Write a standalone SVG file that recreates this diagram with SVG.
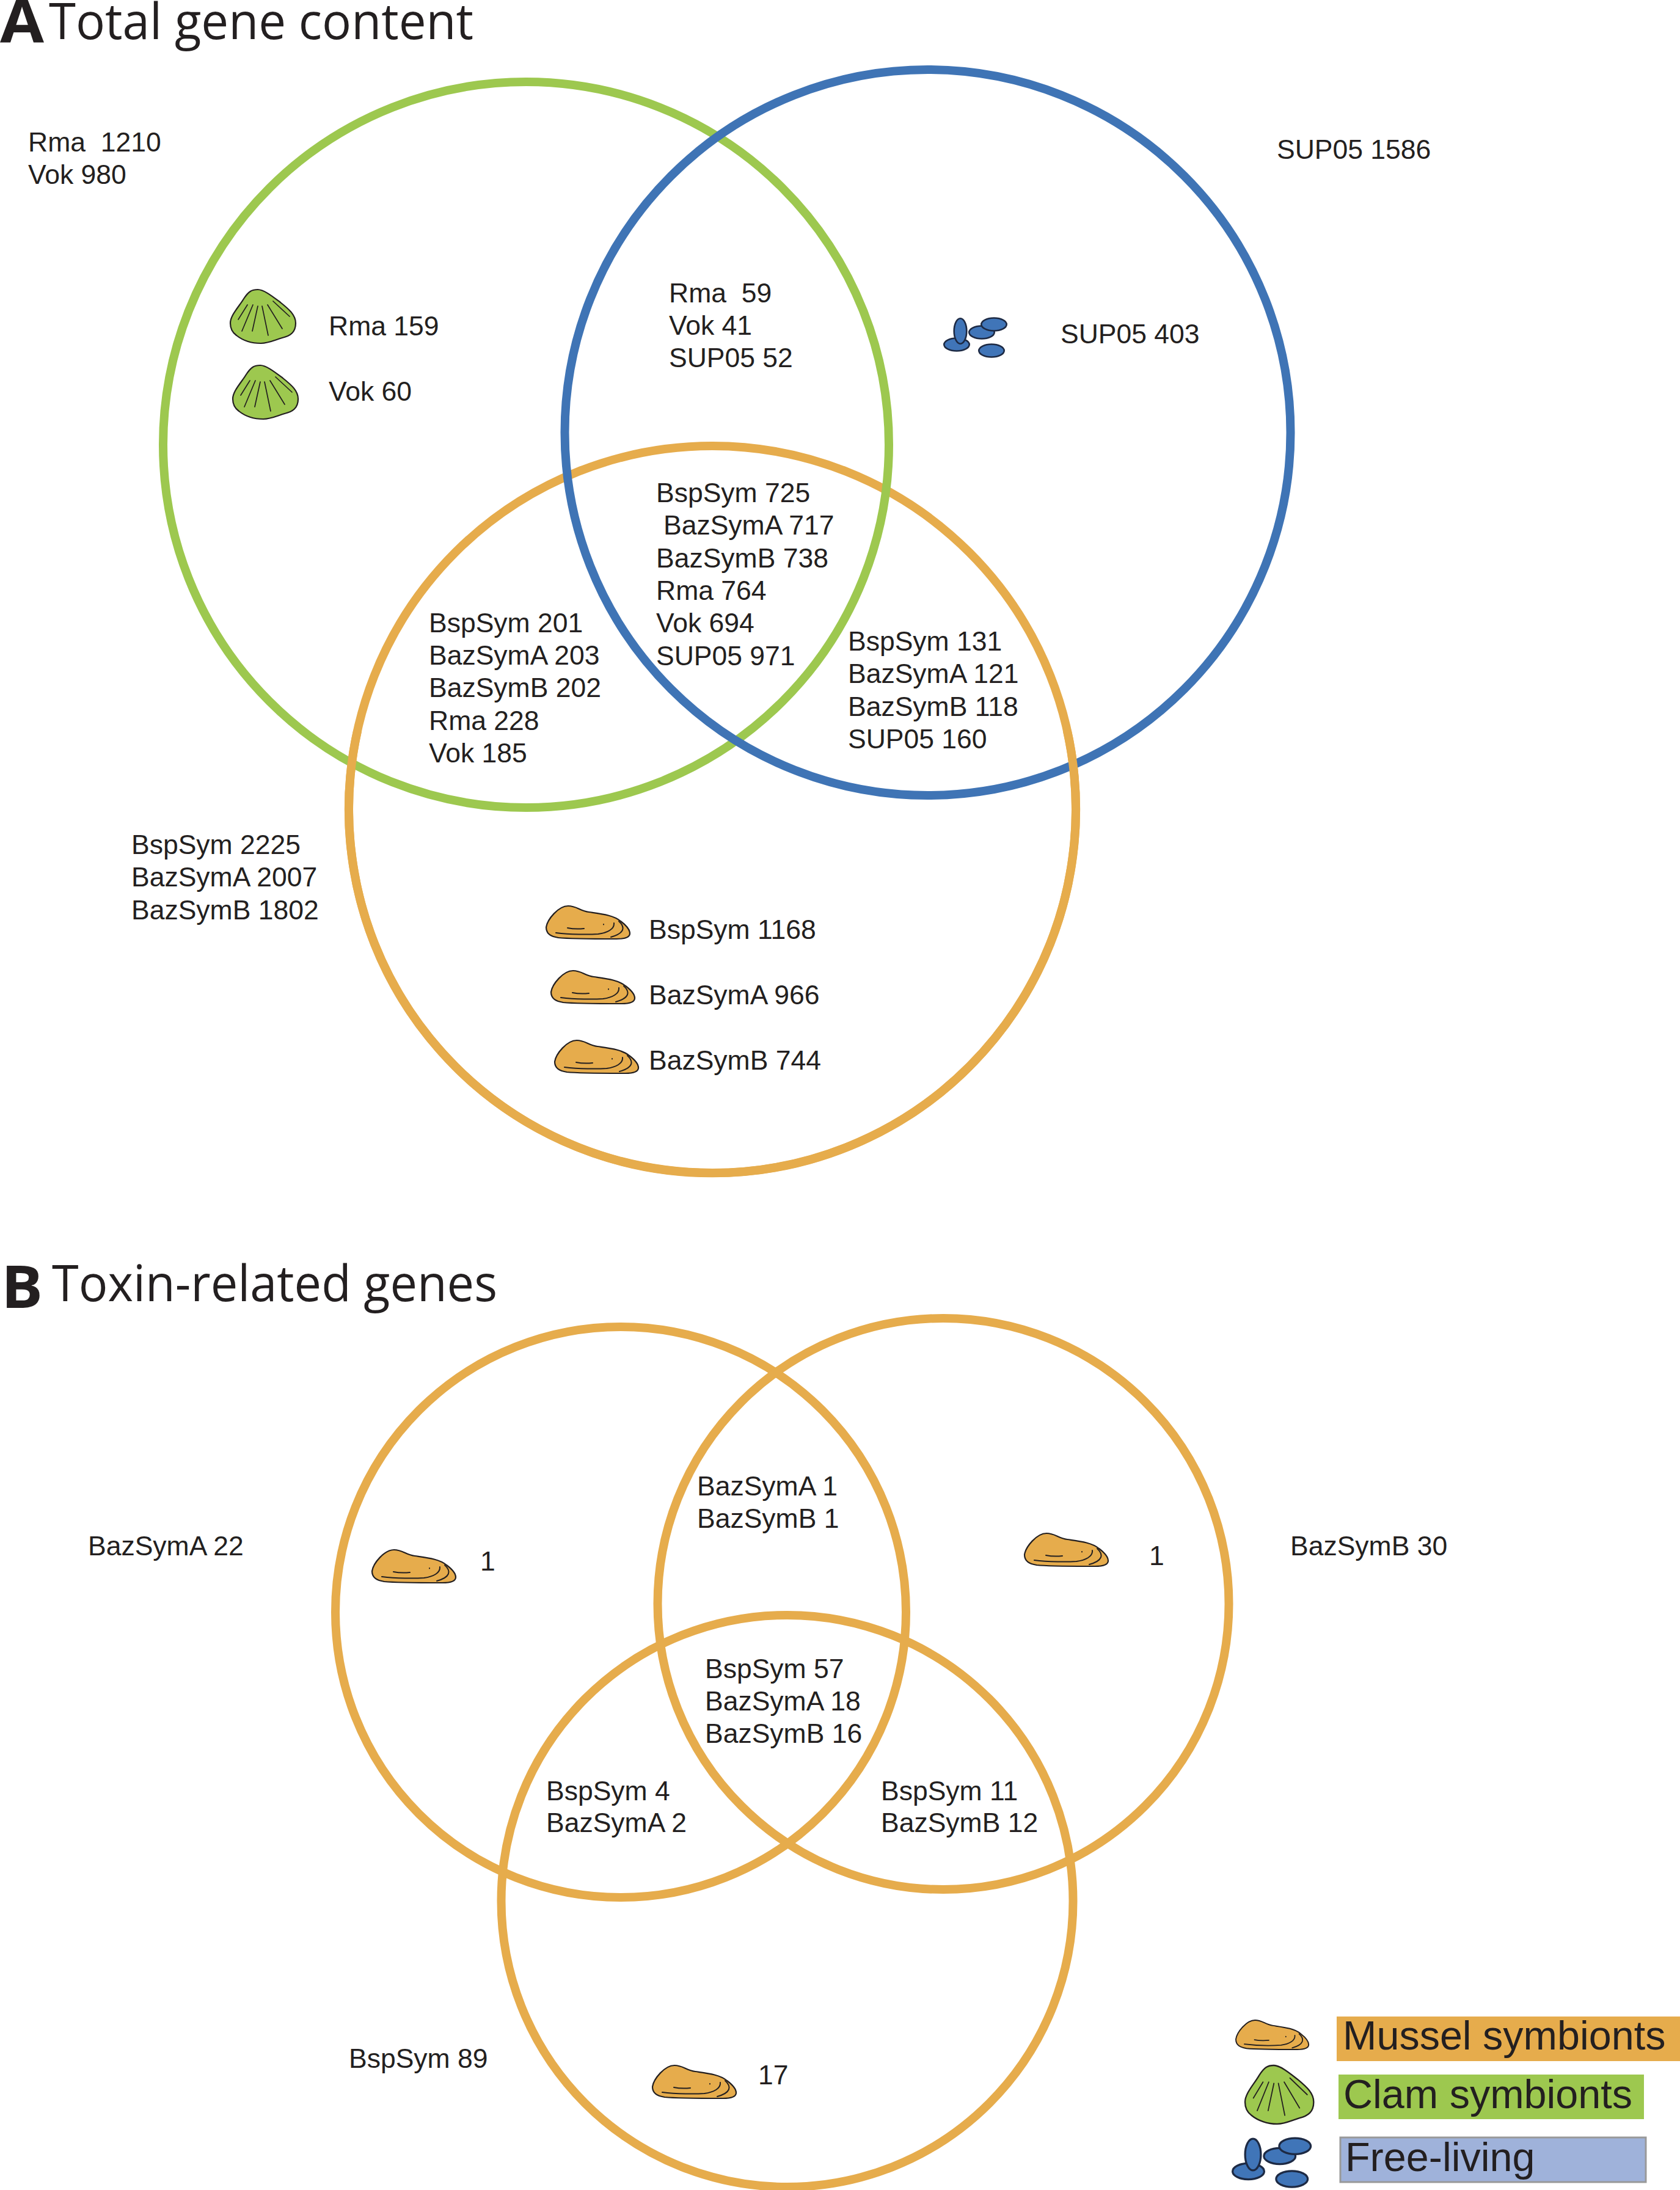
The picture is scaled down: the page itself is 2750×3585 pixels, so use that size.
<svg xmlns="http://www.w3.org/2000/svg" width="2750" height="3585" viewBox="0 0 2750 3585">
<style>
text{font-family:"Liberation Sans",Arial,sans-serif;font-size:44.5px;fill:#231f20;white-space:pre}
.h{font-family:"Open Sans","Liberation Sans",sans-serif;font-size:83px}
.l{font-family:"Open Sans","Liberation Sans",sans-serif;font-weight:700;font-size:96px}
text.k{font-size:66.5px}
.c{fill:none;stroke-width:14}
.g{stroke:#9dc84f}.b{stroke:#3f74b5}.o{stroke:#e6ac4c}
.ln{fill:none;stroke:#231f20;stroke-width:2;stroke-linecap:round}
.e{fill:#4075b8;stroke:#1d2a44;stroke-width:2.6}
</style>
<defs>
<g id="mussel"><path d="M0 35C2 22 20 0 36 0C50 0 55 8 70 10C90 13 110 15 122 25C130 31 137 38 137 45C137 52 128 54 115 54C90 54 40 54 20 52C8 50 0 46 0 35Z" fill="#e6ac4c" stroke="#231f20" stroke-width="2.2"/><path class="ln" d="M16 44C40 47 70 47 85 46C100 44 112 38 111 28M119 25C130 35 128 45 106 51M35 36C45 38 52 38 62 37M94 30v.5"/></g>
<g id="clam"><path d="M45 0C55 0 70 12 82 21C97 33 107 42 107 55C107 70 98 76 85 79C72 83 62 88 50 88C35 88 20 83 10 75C3 70 0 63 0 55C0 42 15 27 22 15C30 3 35 0 45 0Z" fill="#9dc84f" stroke="#231f20" stroke-width="2.2"/><path class="ln" style="stroke-width:1.7" d="M28 25L13 49M37 25L19 68M45 27L36 68M52 27L62 75M61 25L85 64M70 19L97 44"/></g>
<g id="cells"><ellipse class="e" cx="-6" cy="22" rx="20.7" ry="10.5"/><ellipse class="e" cx="0" cy="0" rx="10.3" ry="20.7"/><ellipse class="e" cx="35" cy="2" rx="20.7" ry="10.5"/><ellipse class="e" cx="55" cy="-11" rx="20.7" ry="10.5"/><ellipse class="e" cx="51" cy="32" rx="20.7" ry="10.5"/></g>
</defs>
<g id="panel-a">
<text class="l" x="0" y="70" textLength="72" lengthAdjust="spacingAndGlyphs">A</text>
<text class="h" x="80" y="64" textLength="695" lengthAdjust="spacingAndGlyphs">Total gene content</text>
<g id="venn-a"><circle id="orange-a" class="c o" cx="1166" cy="1325" r="595"/><circle id="green-a" class="c g" cx="861" cy="728" r="594"/><circle id="blue-a" class="c b" cx="1518.5" cy="708" r="594"/><path id="orange-a-front" class="c o" d="M585.2 1196A595 595 0 1 0 1746.8 1196"/></g>
<g id="label-clam-only"><text x="46" y="248">Rma  1210</text><text x="46" y="301">Vok 980</text></g>
<g id="label-free"><text x="2090" y="260">SUP05 1586</text></g>
<g id="clam-1"><use href="#clam" x="377" y="474"/><text x="538" y="549">Rma 159</text></g>
<g id="clam-2"><use href="#clam" x="381" y="598"/><text x="538" y="656">Vok 60</text></g>
<g id="cells-1"><use href="#cells" x="1572" y="542"/><text x="1736" y="562">SUP05 403</text></g>
<g id="label-gb"><text x="1095" y="495">Rma  59</text><text x="1095" y="548">Vok 41</text><text x="1095" y="601">SUP05 52</text></g>
<g id="label-core"><text x="1074" y="822">BspSym 725</text><text x="1086" y="875">BazSymA 717</text><text x="1074" y="929">BazSymB 738</text><text x="1074" y="982">Rma 764</text><text x="1074" y="1035">Vok 694</text><text x="1074" y="1089">SUP05 971</text></g>
<g id="label-go"><text x="702" y="1035">BspSym 201</text><text x="702" y="1088">BazSymA 203</text><text x="702" y="1141">BazSymB 202</text><text x="702" y="1195">Rma 228</text><text x="702" y="1248">Vok 185</text></g>
<g id="label-bo"><text x="1388" y="1065">BspSym 131</text><text x="1388" y="1118">BazSymA 121</text><text x="1388" y="1172">BazSymB 118</text><text x="1388" y="1225">SUP05 160</text></g>
<g id="label-mussel"><text x="215" y="1398">BspSym 2225</text><text x="215" y="1451">BazSymA 2007</text><text x="215" y="1505">BazSymB 1802</text></g>
<g id="mussel-1"><use href="#mussel" x="894" y="1483"/><text x="1062" y="1537">BspSym 1168</text></g>
<g id="mussel-2"><use href="#mussel" x="902" y="1589"/><text x="1062" y="1644">BazSymA 966</text></g>
<g id="mussel-3"><use href="#mussel" x="908" y="1703"/><text x="1062" y="1751">BazSymB 744</text></g>
</g>
<g id="panel-b">
<text class="l" x="2" y="2141" textLength="68" lengthAdjust="spacingAndGlyphs">B</text>
<text class="h" x="85" y="2130" textLength="729" lengthAdjust="spacingAndGlyphs">Toxin-related genes</text>
<g id="venn-b"><circle id="left-b" class="c o" cx="1016" cy="2639" r="467"/><circle id="right-b" class="c o" cx="1544" cy="2625.5" r="467.5"/><circle id="bottom-b" class="c o" cx="1288.5" cy="3112" r="468"/></g>
<text x="144" y="2546">BazSymA 22</text>
<text x="2112" y="2546">BazSymB 30</text>
<g id="mussel-b1"><use href="#mussel" x="609" y="2537"/><text x="786" y="2571">1</text></g>
<g id="mussel-b2"><use href="#mussel" x="1677" y="2510"/><text x="1881" y="2562">1</text></g>
<g id="label-ab"><text x="1141" y="2448">BazSymA 1</text><text x="1141" y="2501">BazSymB 1</text></g>
<g id="label-abc"><text x="1154" y="2747">BspSym 57</text><text x="1154" y="2800">BazSymA 18</text><text x="1154" y="2853">BazSymB 16</text></g>
<g id="label-ac"><text x="894" y="2947">BspSym 4</text><text x="894" y="2999">BazSymA 2</text></g>
<g id="label-bc"><text x="1442" y="2947">BspSym 11</text><text x="1442" y="2999">BazSymB 12</text></g>
<text x="571" y="3385">BspSym 89</text>
<g id="mussel-b3"><use href="#mussel" x="1068" y="3381"/><text x="1241" y="3412">17</text></g>
</g>
<g id="legend">
<g id="legend-mussel"><use href="#mussel" transform="translate(2023 3307) scale(.87 .89)"/><rect x="2188" y="3301" width="562" height="73" fill="#e6ac4c"/><text class="k" x="2198" y="3355">Mussel symbionts</text></g>
<g id="legend-clam"><use href="#clam" transform="translate(2038 3381) scale(1.05 1.09)"/><rect x="2191" y="3396" width="500" height="73" fill="#9dc84f"/><text class="k" x="2199" y="3451">Clam symbionts</text></g>
<g id="legend-free"><use href="#cells" transform="translate(2051 3527) scale(1.25)"/><rect x="2194" y="3499" width="500" height="73" fill="#9fb2da" stroke="#999" stroke-width="3"/><text class="k" x="2202" y="3554">Free-living</text></g>
</g>
</svg>
